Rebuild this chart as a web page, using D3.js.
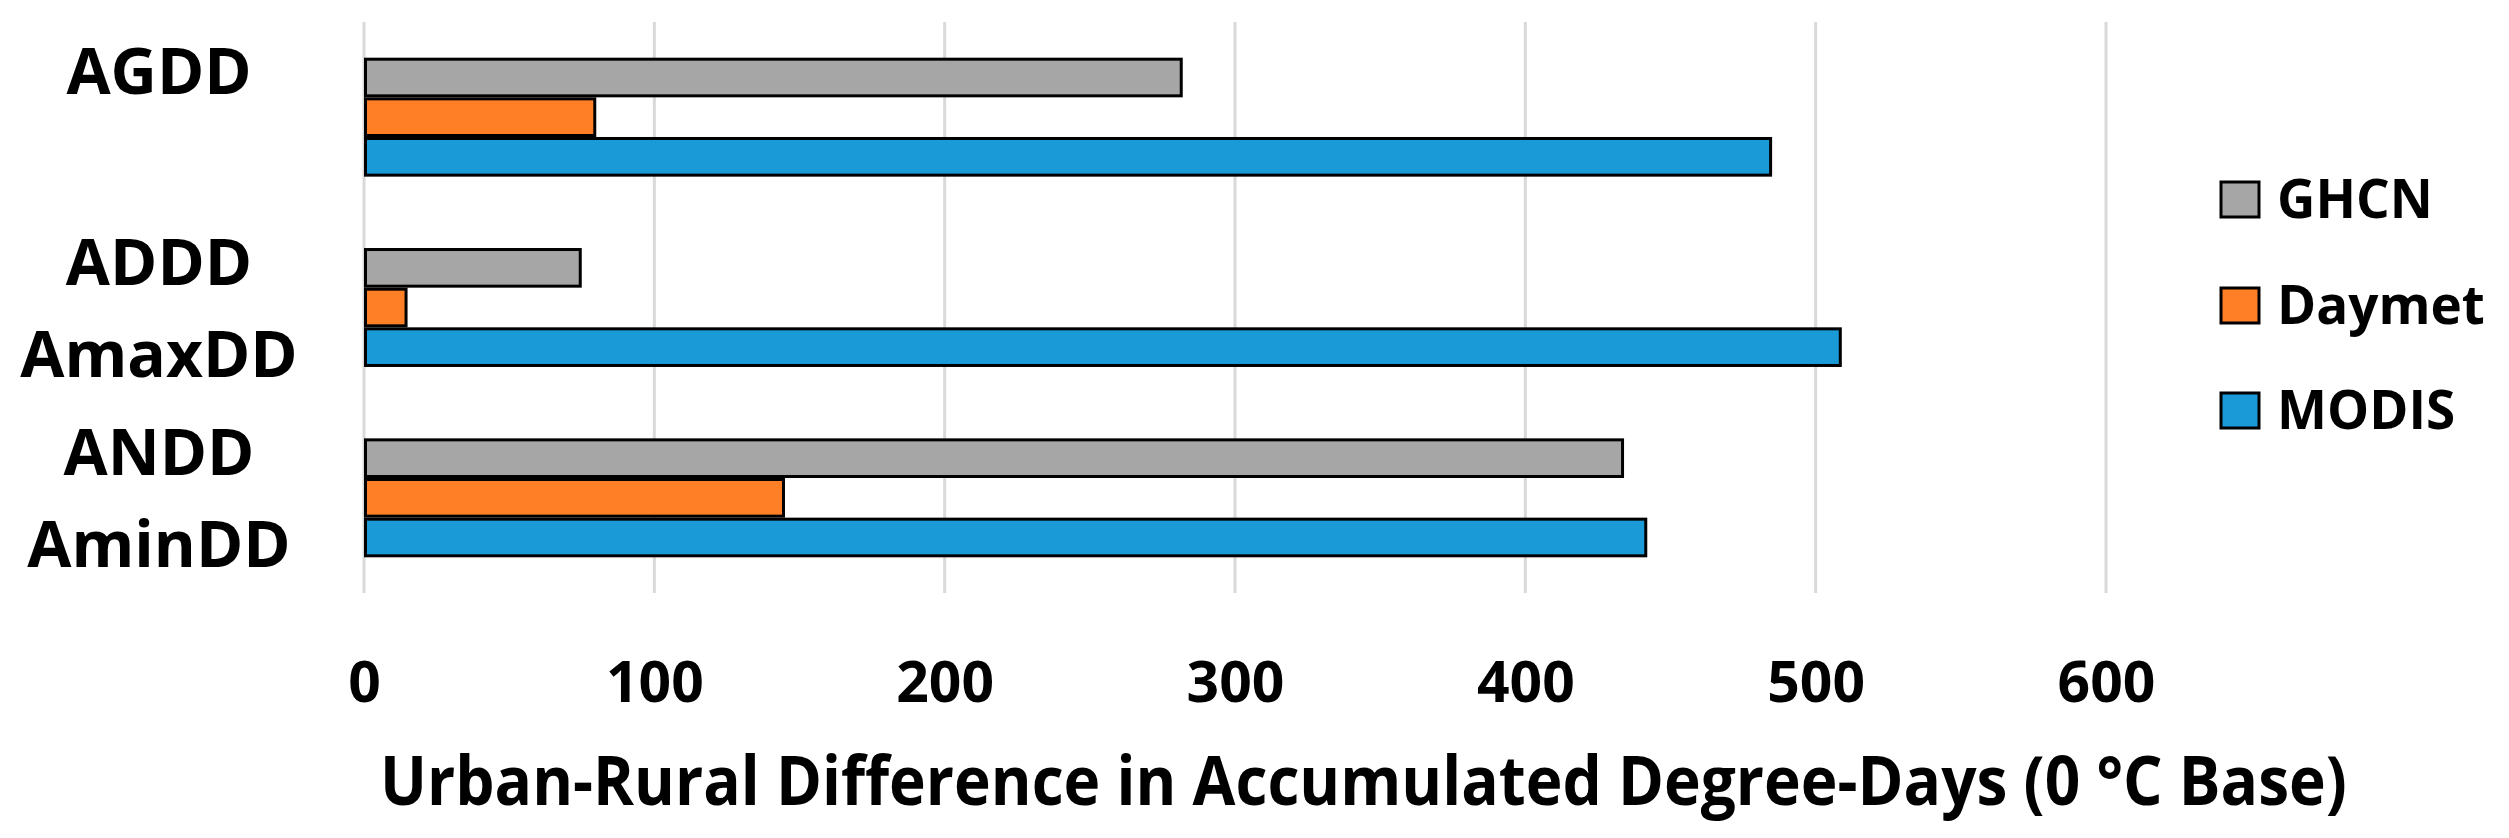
<!DOCTYPE html>
<html>
<head>
<meta charset="utf-8">
<script src="https://cdn.jsdelivr.net/npm/d3@7"></script>
<style>
  html, body { margin: 0; padding: 0; background: #fff; }
  svg { display: block; }
  text { font-family: "Open Sans", "Noto Sans", sans-serif; font-weight: bold; fill: #000; }
</style>
</head>
<body>
<svg id="chart" width="2509" height="838"></svg>
<script>
// ---- data ----
const categories = ["AGDD", "ADDD/AmaxDD", "ANDD/AminDD"];
const categoryLines = [["AGDD", ""], ["ADDD", "AmaxDD"], ["ANDD", "AminDD"]];
const seriesNames = ["GHCN", "Daymet", "MODIS"];
const ghcn = [282, 75, 434];
const daymet = [80, 15, 145];
const modis = [485, 509, 442];
const xTicks = [0, 100, 200, 300, 400, 500, 600];
const xTitle = "Urban-Rural Difference in Accumulated Degree-Days (0 °C Base)";
const colors = ["#a6a6a6", "#ff7f27", "#1a9bd7"];

const seriesValues = [ghcn, daymet, modis];

const svg = d3.select("#chart");

const x = d3.scaleLinear().domain([0, 600]).range([364, 2106]);
const y = d3.scaleBand().domain(categories).range([22, 593])
  .paddingInner(0.375).paddingOuter(0.1875);
const ySub = d3.scaleBand().domain(seriesNames).range([0, y.bandwidth()]).padding(0);
const color = d3.scaleOrdinal().domain(seriesNames).range(colors);

// gridlines
svg.append("g").selectAll("line").data(xTicks).join("line")
  .attr("x1", d => x(d)).attr("x2", d => x(d))
  .attr("y1", 22).attr("y2", 593)
  .attr("stroke", "#d9d9d9").attr("stroke-width", 3);

// bars
const groups = svg.append("g").selectAll("g").data(categories).join("g")
  .attr("transform", d => `translate(0,${y(d)})`);
groups.selectAll("rect")
  .data((c, i) => seriesNames.map((s, j) => ({ s, v: seriesValues[j][i] })))
  .join("rect")
  .attr("x", x(0) + 1.5)
  .attr("y", d => ySub(d.s) + 1.5)
  .attr("width", d => x(d.v) - x(0) - 3)
  .attr("height", ySub.bandwidth() - 3)
  .attr("fill", d => color(d.s))
  .attr("stroke", "#000").attr("stroke-width", 3);

// category labels
const lineGap = 92;
categories.forEach((c, i) => {
  const cy = y(c) + y.bandwidth() / 2;
  categoryLines[i].forEach((t, k) => {
    if (!t) return;
    svg.append("text")
      .attr("x", 159)
      .attr("y", cy - 23 + k * lineGap)
      .attr("text-anchor", "middle")
      .attr("font-size", 64)
      .text(t);
  });
});

// x axis tick labels
const xAxis = d3.axisBottom(x).tickValues(xTicks).tickSize(0).tickPadding(0);
const ax = svg.append("g").attr("transform", "translate(0,702)").call(xAxis);
ax.select(".domain").remove();
ax.selectAll("text")
  .attr("y", 0).attr("dy", null)
  .attr("font-size", 57)
  .style("font-family", '"Open Sans", sans-serif')
  .style("font-weight", "bold")
  .attr("fill", "#000");

// axis title (fitted horizontally to the reference width)
const title = svg.append("text")
  .attr("x", 0).attr("y", 0)
  .attr("font-size", 68)
  .text(xTitle);
const w = title.node().getComputedTextLength();
title.attr("transform", `translate(380,805) scale(${1967 / w},1)`);

// legend
const legendY = [199, 305, 410];
const lg = svg.append("g").selectAll("g").data(seriesNames).join("g")
  .attr("transform", (d, i) => `translate(2221,${legendY[i]})`);
lg.append("rect")
  .attr("x", 0).attr("y", -17).attr("width", 38).attr("height", 35)
  .attr("fill", d => color(d)).attr("stroke", "#000").attr("stroke-width", 3);
lg.append("text")
  .attr("x", 56).attr("y", 19)
  .attr("font-size", 53)
  .text(d => d);
</script>
</body>
</html>
